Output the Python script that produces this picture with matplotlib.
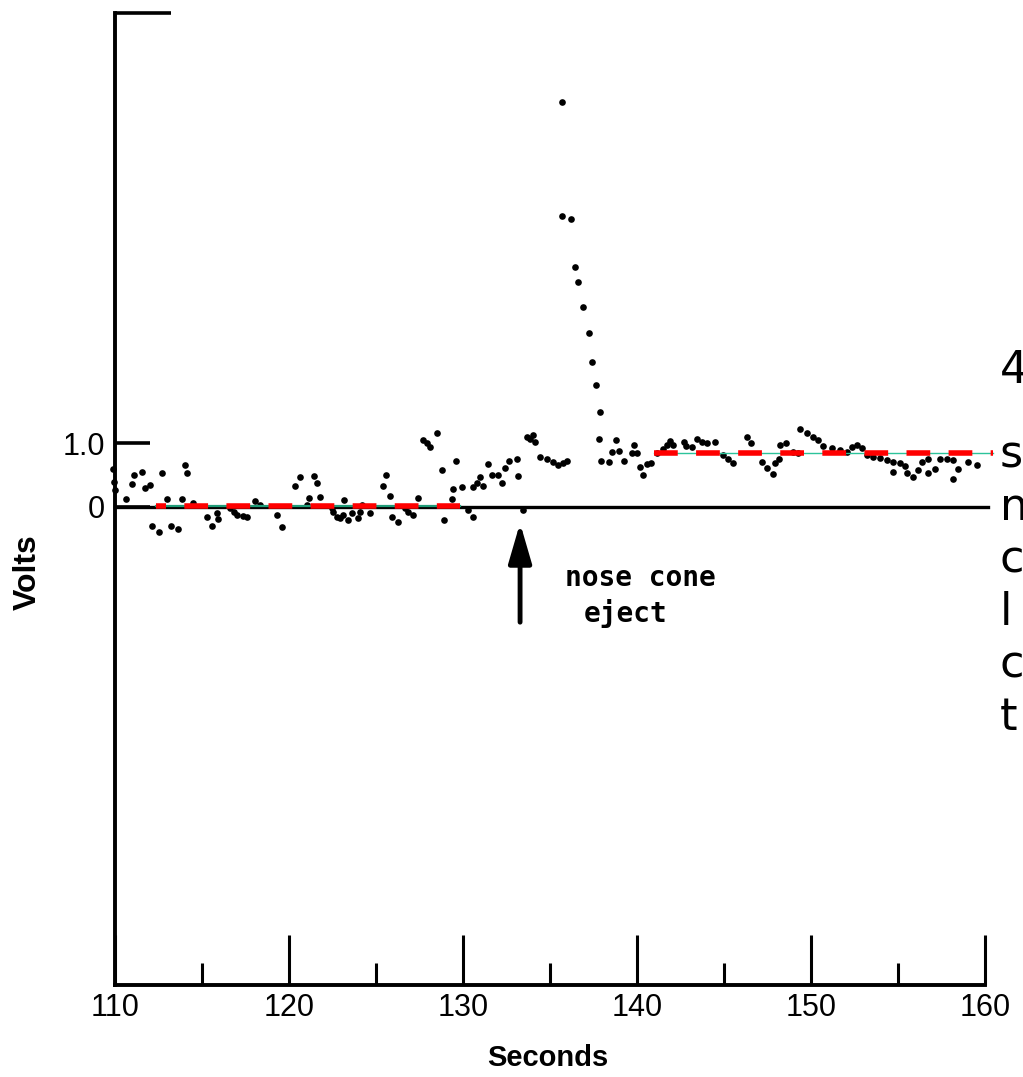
import matplotlib
matplotlib.use("Agg")
import matplotlib.pyplot as plt
from matplotlib.ticker import FixedLocator

plt.rcParams['font.family'] = ['Liberation Sans', 'DejaVu Sans']
plt.rcParams['lines.scale_dashes'] = False

# ---------------- data (seconds, volts) ----------------
t_sec = [109.89, 109.94, 110.00, 110.63, 110.98, 111.09, 111.55, 111.72, 112.01, 112.13,
         112.53, 112.70, 112.99, 113.22, 113.62, 113.85, 114.02, 114.14, 114.48, 115.29,
         115.57, 115.86, 115.92, 116.61, 116.84, 117.01, 117.36, 117.59, 118.05, 118.33,
         119.31, 119.60, 120.34, 120.63, 121.03, 121.15, 121.44, 121.61, 121.78, 122.47,
         122.53, 122.76, 122.93, 123.10, 123.16, 123.39, 123.62, 123.97, 124.08, 124.20,
         124.66, 125.40, 125.57, 125.80, 125.92, 126.26, 126.67, 126.84, 127.13, 127.41,
         127.70, 127.93, 128.10, 128.51, 128.79, 128.91, 129.37, 129.43, 129.60, 129.94,
         130.29, 130.57, 130.57, 130.80, 130.98, 131.15, 131.44, 131.67, 132.01, 132.24,
         132.41, 132.64, 133.10, 133.16, 133.45, 133.68, 133.85, 134.02, 134.14, 134.43,
         134.83, 135.17, 135.46, 135.75, 135.98, 135.69, 135.69, 136.21, 136.44, 136.61,
         136.90, 137.24, 137.41, 137.64, 137.87, 137.82, 137.93, 138.39, 138.56, 138.79,
         138.97, 139.25, 139.71, 139.83, 140.00, 140.17, 140.34, 140.57, 140.80, 141.15,
         141.49, 141.72, 141.90, 142.07, 142.70, 142.82, 143.16, 143.45, 143.74, 144.02,
         144.48, 144.94, 145.23, 145.52, 146.32, 146.55, 147.18, 147.47, 147.82, 147.93,
         148.16, 148.22, 148.56, 148.97, 149.25, 149.37, 149.77, 150.11, 150.40, 150.69,
         151.21, 151.67, 152.07, 152.36, 152.64, 152.93, 153.22, 153.56, 153.97, 154.37,
         154.71, 155.11, 154.71, 155.40, 155.52, 155.86, 156.15, 156.38, 156.72, 156.72,
         157.13, 157.41, 157.82, 158.16, 158.16, 158.45, 159.02, 159.54]
volts = [0.59, 0.39, 0.27, 0.13, 0.36, 0.50, 0.55, 0.30, 0.34, -0.30,
         -0.39, 0.53, 0.13, -0.30, -0.34, 0.13, 0.66, 0.53, 0.06, -0.16,
         -0.30, -0.09, -0.19, -0.02, -0.08, -0.13, -0.14, -0.16, 0.09, 0.03,
         -0.13, -0.31, 0.33, 0.47, 0.03, 0.14, 0.48, 0.38, 0.16, -0.02,
         -0.08, -0.16, -0.17, -0.13, 0.11, -0.20, -0.09, -0.17, -0.08, 0.03,
         -0.09, 0.33, 0.50, 0.17, -0.16, -0.23, -0.02, -0.08, -0.13, 0.14,
         1.05, 1.00, 0.94, 1.16, 0.58, -0.20, 0.13, 0.28, 0.72, 0.31,
         -0.05, -0.16, 0.31, 0.38, 0.47, 0.33, 0.67, 0.50, 0.50, 0.38,
         0.61, 0.72, 0.75, 0.48, -0.05, 1.09, 1.06, 1.13, 1.02, 0.78,
         0.75, 0.70, 0.66, 0.69, 0.72, 6.33, 4.55, 4.50, 3.75, 3.52,
         3.13, 2.72, 2.27, 1.91, 1.48, 1.06, 0.72, 0.70, 0.86, 1.05,
         0.88, 0.72, 0.84, 0.97, 0.84, 0.63, 0.50, 0.67, 0.69, 0.84,
         0.91, 0.97, 1.03, 0.97, 1.02, 0.95, 0.94, 1.06, 1.02, 1.00,
         1.02, 0.81, 0.75, 0.69, 1.09, 1.00, 0.70, 0.61, 0.52, 0.69,
         0.75, 0.97, 1.00, 0.86, 0.84, 1.22, 1.16, 1.09, 1.05, 0.95,
         0.92, 0.89, 0.86, 0.94, 0.97, 0.92, 0.81, 0.78, 0.77, 0.73,
         0.70, 0.69, 0.55, 0.64, 0.53, 0.47, 0.58, 0.70, 0.75, 0.53,
         0.59, 0.75, 0.75, 0.73, 0.44, 0.59, 0.70, 0.66]

# mean levels (red dashed) before and after nose-cone eject
mean_before_t = [112.33, 129.81]
mean_before_v = 0.02
mean_after_t = [140.98, 160.46]
mean_after_v = 0.84

eject_time = 133.28
x_ticks_major = [110, 120, 130, 140, 150, 160]
x_ticks_minor = [115, 125, 135, 145, 155]
x_tick_labels = ['110', '120', '130', '140', '150', '160']
y_ticks = [0.0, 1.0]
y_tick_labels = ['0', '1.0']
side_heading = '4'
side_text = ['s', 'n', 'c', 'l', 'c', 't']

# ---------------- figure ----------------
W, H = 1023, 1077
fig = plt.figure(figsize=(W / 100, H / 100), dpi=100)
ax = fig.add_axes([115 / W, (H - 985) / H, 870 / W, 972 / H])
ax.set_xlim(110, 160)
ax.set_ylim(-7.47, 7.72)

for s in ['top', 'right']:
    ax.spines[s].set_visible(False)
for s in ['left', 'bottom']:
    ax.spines[s].set_linewidth(2.8)
    ax.spines[s].set_capstyle('projecting')

# zero line
ax.axhline(0, xmin=0, xmax=1.004, color='black', lw=2.4, clip_on=False, zorder=2)

# data dots
ax.plot(t_sec, volts, 'o', color='black', ms=4.8, mew=0, clip_on=False, zorder=3)

# mean lines: thin green under red dashes
ax.plot(mean_before_t, [mean_before_v] * 2, color='#1f9c78', lw=1.6, zorder=4)
ax.plot(mean_after_t, [mean_after_v] * 2, color='#2cc39a', lw=1.0, zorder=4, clip_on=False)
ax.plot(mean_before_t, [mean_before_v] * 2, color='#ff0000', lw=4.0,
        linestyle=(9.9, (17.1, 13.2)), solid_capstyle='butt', zorder=5)
ax.plot(mean_after_t, [mean_after_v] * 2, color='#ff0000', lw=4.0,
        linestyle=(0, (17.1, 13.2)), solid_capstyle='butt', zorder=5, clip_on=False)

# ticks
ax.xaxis.set_major_locator(FixedLocator(x_ticks_major))
ax.xaxis.set_minor_locator(FixedLocator(x_ticks_minor))
ax.set_xticklabels(x_tick_labels)
ax.tick_params(axis='x', which='major', direction='in', length=36, width=2.2,
               labelsize=22, pad=6)
ax.tick_params(axis='x', which='minor', direction='in', length=16, width=2.2)
ax.yaxis.set_major_locator(FixedLocator(y_ticks))
ax.yaxis.set_minor_locator(FixedLocator([7.72]))
ax.set_yticklabels(y_tick_labels)
ax.tick_params(axis='y', which='major', direction='in', length=25, width=2.6,
               labelsize=22, pad=7)
ax.tick_params(axis='y', which='minor', direction='in', length=40, width=2.6)

# axis labels
fig.text(28 / W, 1 - 572 / H, 'Volts', rotation=90, ha='center', va='center',
         fontsize=23, fontweight='bold')
fig.text(548 / W, 1 - 1058 / H, 'Seconds', ha='center', va='center',
         fontsize=21, fontweight='bold')

# annotation
ax.annotate('', xy=(eject_time, -0.25), xytext=(eject_time, -1.8),
            arrowprops=dict(arrowstyle='-|>,head_length=1.1,head_width=0.32',
                            mutation_scale=22, lw=3.5, color='black',
                            shrinkA=0, shrinkB=0))
ax.text(140.2, -1.11, 'nose cone', ha='center', va='center', fontsize=20,
        fontweight='bold', family=['DejaVu Sans Mono'])
ax.text(139.35, -1.66, 'eject', ha='center', va='center', fontsize=20,
        fontweight='bold', family=['DejaVu Sans Mono'])

# cut-off side text (slide text beyond the chart)
fig.text(1000 / W, 1 - 383 / H, side_heading, ha='left', va='baseline',
         fontsize=32, family=['DejaVu Sans'])
for i, ch in enumerate(side_text):
    fig.text(1000 / W, 1 - (467 + 52.6 * i) / H, ch, ha='left', va='baseline',
             fontsize=32, family=['DejaVu Sans'])

fig.savefig('out.png', dpi=100)
